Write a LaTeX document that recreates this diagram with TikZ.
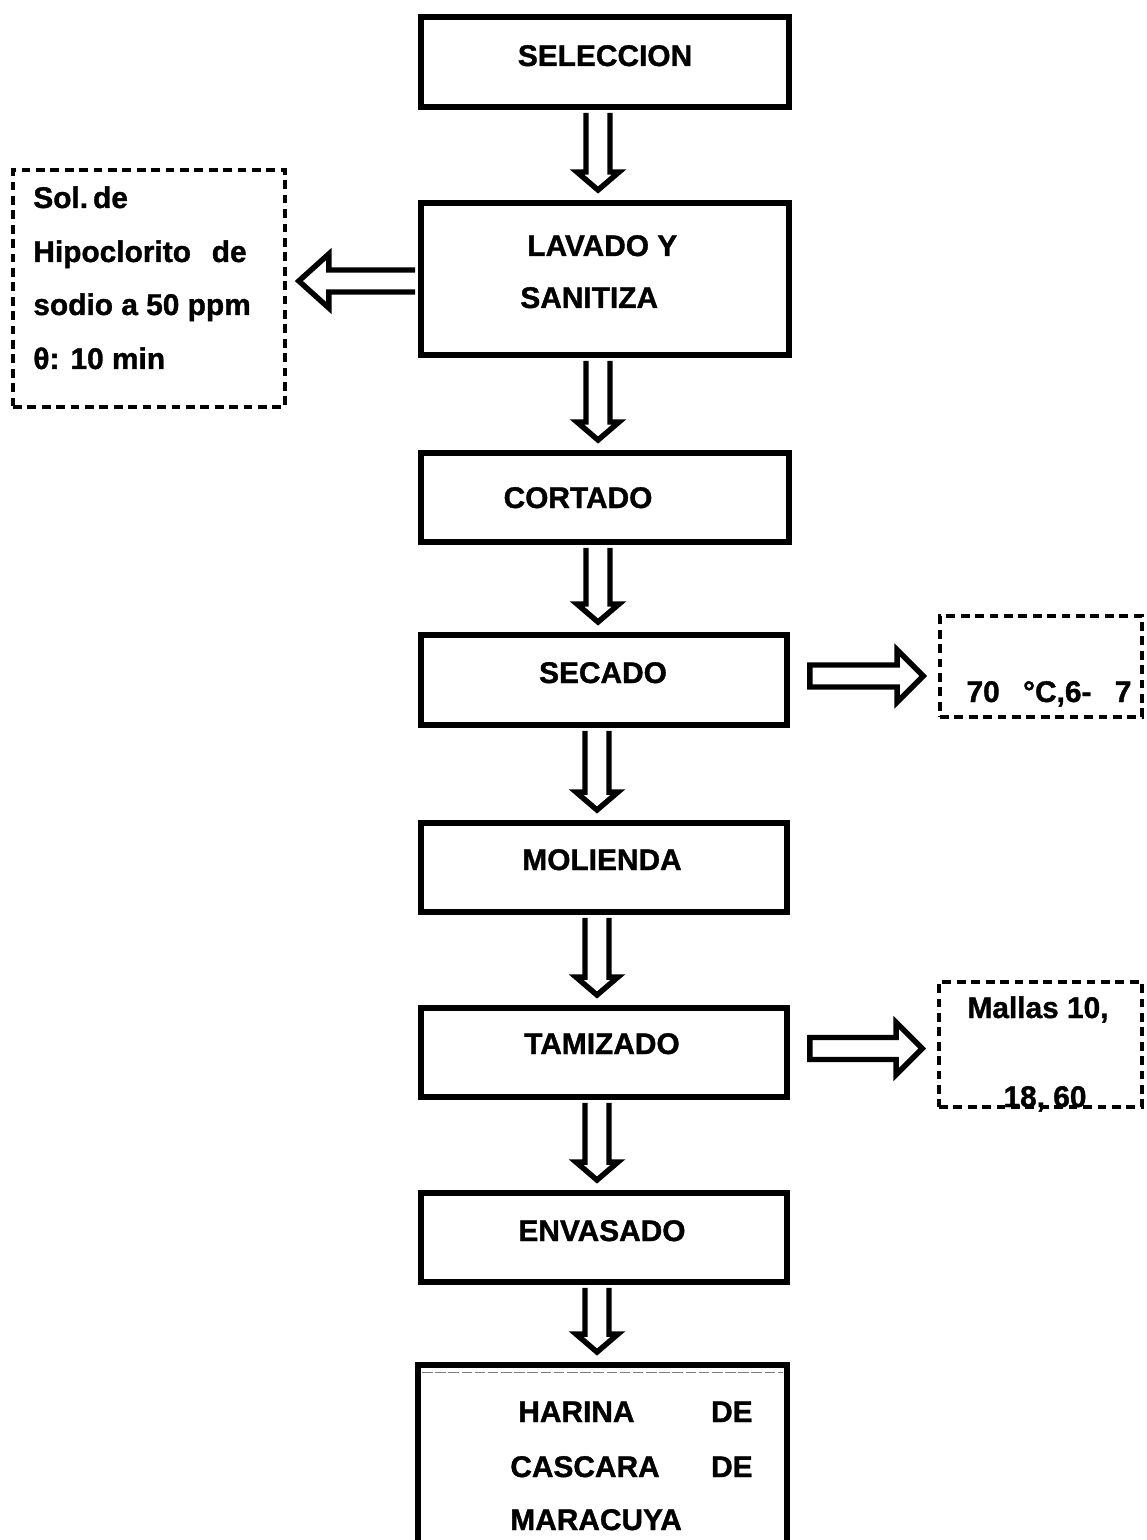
\documentclass[tikz,border=0pt]{standalone}
\usepackage{fontspec}
\setmainfont{Liberation Sans}[BoldFeatures={FakeBold=1.2}]
\usetikzlibrary{calc}
\tikzset{
 box/.style={draw, line width=3.4pt, fill=white, inner sep=0pt, minimum width=7.36cm, minimum height=1.78cm},
 dbox/.style={draw, line width=2.1pt, dash pattern=on 5pt off 3.2pt, inner sep=0pt},
 blk/.style={draw, line width=3.1pt, fill=white, line join=miter, miter limit=10},
 lbl/.style={font=\fontsize{17pt}{20pt}\selectfont\bfseries, inner sep=0pt},
}
\newcommand\blockdown[2]{%
 \path ($(#1.south)+(-7,3)$) coordinate (da) ($(#2.north -| #1.south)+(-7,-10)$) coordinate (db);
 \draw[blk] ($(da)+(-12,0)$) -- ($(db)+(-12,-18)$) -- ($(db)+(-21,-18)$) -- (db) -- ($(db)+(21,-18)$) -- ($(db)+(12,-18)$) -- ($(da)+(12,0)$);}
\newcommand\blockright[2]{%
 \path ($(#1.east)+(20,-4)$) coordinate (ra) ($(#2.west |- #1.east)+(-15,-4)$) coordinate (rb);
 \draw[blk] ($(ra)+(0,-11)$) -- ($(rb)+(-26,-11)$) -- ($(rb)+(-26,-26)$) -- (rb) -- ($(rb)+(-26,26)$) -- ($(rb)+(-26,11)$) -- ($(ra)+(0,11)$) -- cycle;}
\newcommand\blockleft[2]{%
 \path ($(#1.west)+(-3,2)$) coordinate (la) ($(#2.east |- #1.west)+(12,2)$) coordinate (lb);
 \draw[blk] ($(la)+(0,-11)$) -- ($(lb)+(30,-11)$) -- ($(lb)+(30,-27)$) -- (lb) -- ($(lb)+(30,27)$) -- ($(lb)+(30,11)$) -- ($(la)+(0,11)$);}
\begin{document}
\begin{tikzpicture}[x=0.02cm,y=-0.02cm]
\useasboundingbox (0,0) rectangle (1146,1540);
\clip (0,0) rectangle (1146,1540);
\fill[white] (0,0) rectangle (1146,1540);
% process boxes
\node[box, minimum height=1.8cm] (sel) at (605,62) {};
\node[box, minimum height=3.04cm] (lav) at (605,279) {};
\node[box] (cor) at (605,497.5) {};
\node[box, minimum width=7.32cm, minimum height=1.8cm] (sec) at (604,680) {};
\node[box, minimum width=7.32cm] (mol) at (604,867.5) {};
\node[box, minimum width=7.32cm] (tam) at (604,1052.5) {};
\node[box, minimum width=7.32cm] (env) at (604,1237.5) {};
\node[box, minimum width=7.38cm, minimum height=3.9cm] (har) at (602.5,1462.5) {};
\draw[gray, line width=0.6pt, dash pattern=on 6pt off 1.5pt] ($(har.north west)+(7,10)$) -- ($(har.north east)+(-7,10)$);
% dashed note boxes
\node[dbox, minimum width=5.44cm, minimum height=4.74cm] (d1) at (149,288.5) {};
\node[dbox, minimum width=4.04cm, minimum height=2.02cm] (d2) at (1041,666.5) {};
\node[dbox, minimum width=4.06cm, minimum height=2.5cm] (d3) at (1040.5,1044.5) {};
% connectors
\blockdown{sel}{lav}
\blockdown{lav}{cor}
\blockdown{cor}{sec}
\blockdown{sec}{mol}
\blockdown{mol}{tam}
\blockdown{tam}{env}
\blockdown{env}{har}
\blockleft{lav}{d1}
\blockright{sec}{d2}
\blockright{tam}{d3}
% labels
\node[lbl, anchor=base] (t1) at (605,66) {SELECCION};
\node[lbl, anchor=base west] (t2) at (527,256) {LAVADO Y};
\node[lbl, anchor=base west] (t3) at (520,308) {SANITIZA};
\node[lbl, anchor=base] (t4) at (578,508) {CORTADO};
\node[lbl, anchor=base] (t5) at (603,683) {SECADO};
\node[lbl, anchor=base] (t6) at (602,870) {MOLIENDA};
\node[lbl, anchor=base] (t7) at (602,1054) {TAMIZADO};
\node[lbl, anchor=base] (t8) at (602,1241) {ENVASADO};
\node[lbl, anchor=base west] (h1) at (518,1422) {HARINA};
\node[lbl, anchor=base east] (h2) at (753,1422) {DE};
\node[lbl, anchor=base west] (h3) at (510,1477) {CASCARA};
\node[lbl, anchor=base east] (h4) at (753,1477) {DE};
\node[lbl, anchor=base west] (h5) at (510,1530) {MARACUYA};
\node[lbl, anchor=base west] (n1) at (33,208) {Sol.\,de};
\node[lbl, anchor=base west] (n2) at (33,262) {Hipoclorito};
\node[lbl, anchor=base east] (n3) at (247,262) {de};
\node[lbl, anchor=base west] (n4) at (33,315) {sodio a 50 ppm};
\node[lbl, anchor=base west] (n5) at (33,369) {θ: 10 min};
\node[lbl, anchor=base] (n6) at (1049,702) {\makebox[3.3cm]{70\hfill°C,6-\hfill 7}};
\node[lbl, anchor=base] (n7) at (1038,1018) {Mallas 10,};
\node[lbl, anchor=base] (n8) at (1045,1107) {18, 60};
\end{tikzpicture}
\end{document}
